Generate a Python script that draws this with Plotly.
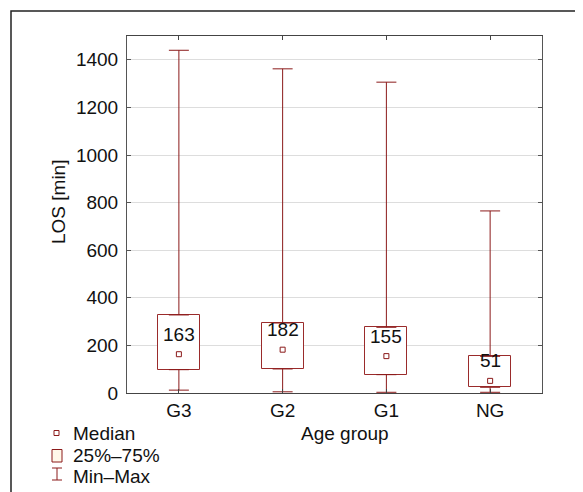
import plotly.graph_objects as go

categories = ["G3", "G2", "G1", "NG"]
median = [163, 182, 155, 51]
q1 = [98, 101, 77, 24]
q3 = [328, 294, 276, 154]
min_v = [12, 5, 3, 3]
max_v = [1440, 1362, 1306, 765]
y_ticks = [0, 200, 400, 600, 800, 1000, 1200, 1400]
legend_labels = ["Median", "25%–75%", "Min–Max"]

RED = "#8b1a1a"
BOXRED = "#9a2b2b"
FONT = "Liberation Sans, Arial, sans-serif"
FS = 19

fig = go.Figure()

# Boxes (25%-75%)
fig.add_trace(go.Bar(
    x=categories, y=[b - a for a, b in zip(q1, q3)], base=q1, width=0.405,
    marker=dict(color="white", line=dict(color=BOXRED, width=1)),
    showlegend=False, hoverinfo="skip"))

# Upper whiskers (q3 -> max)
fig.add_trace(go.Scatter(
    x=categories, y=q3, mode="markers", marker=dict(size=0.1, opacity=0),
    error_y=dict(type="data", array=[m - q for m, q in zip(max_v, q3)],
                 arrayminus=[0] * 4, color=RED, thickness=1, width=10),
    showlegend=False, hoverinfo="skip"))
# Lower whiskers (min -> q1)
fig.add_trace(go.Scatter(
    x=categories, y=q1, mode="markers", marker=dict(size=0.1, opacity=0),
    error_y=dict(type="data", array=[0] * 4,
                 arrayminus=[q - m for m, q in zip(min_v, q1)], color=RED, thickness=1, width=10),
    showlegend=False, hoverinfo="skip"))

# Median markers
fig.add_trace(go.Scatter(
    x=categories, y=median, mode="markers",
    marker=dict(symbol="square-open", size=5, color=RED, line=dict(width=1, color=RED)),
    showlegend=False, hoverinfo="skip"))

# Median labels
for c, m in zip(categories, median):
    fig.add_annotation(x=c, y=m, text=str(m), showarrow=False, yshift=20,
                       font=dict(size=FS, color="#111", family=FONT))

OFF = 8  # page offset of the figure
L, R, T, B = 119, 49, 28, 107
W, H = 583, 492
pw, ph = W - L - R, H - T - B


def sx(px):
    return (px - OFF - L) / pw


def sy(py):
    return (H - B - (py - OFF)) / ph


# Axis titles
fig.add_annotation(xref="paper", yref="paper", x=sx(58), y=sy(202), text="LOS [min]",
                   textangle=-90, showarrow=False, xanchor="center", yanchor="middle",
                   font=dict(size=FS, color="#111", family=FONT))
fig.add_annotation(xref="paper", yref="paper", x=sx(345), y=sy(433), text="Age group",
                   showarrow=False, xanchor="center", yanchor="middle",
                   font=dict(size=FS, color="#111", family=FONT))

# Legend (drawn manually)
fig.add_shape(type="rect", xref="paper", yref="paper", x0=sx(54), x1=sx(59), y0=sy(435.5), y1=sy(430.5),
              line=dict(color=RED, width=1), fillcolor="white")
fig.add_shape(type="rect", xref="paper", yref="paper", x0=sx(52), x1=sx(62), y0=sy(462), y1=sy(449.5),
              line=dict(color=RED, width=1), fillcolor="#fff8ea")
fig.add_shape(type="line", xref="paper", yref="paper", x0=sx(57), x1=sx(57), y0=sy(480), y1=sy(468),
              line=dict(color=RED, width=1))
fig.add_shape(type="line", xref="paper", yref="paper", x0=sx(52), x1=sx(62), y0=sy(468), y1=sy(468),
              line=dict(color=RED, width=1))
fig.add_shape(type="line", xref="paper", yref="paper", x0=sx(52), x1=sx(62), y0=sy(480), y1=sy(480),
              line=dict(color=RED, width=1))
for lab, yc in zip(legend_labels, [433, 455.5, 476.5]):
    fig.add_annotation(xref="paper", yref="paper", x=sx(71), y=sy(yc), text=lab,
                       showarrow=False, xanchor="left", yanchor="middle",
                       font=dict(size=FS, color="#111", family=FONT))

# Outer frame
fig.add_shape(type="rect", xref="paper", yref="paper",
              x0=sx(11), x1=sx(640), y0=sy(560), y1=sy(11),
              line=dict(color="#222", width=1.5), layer="below")

fig.update_layout(
    width=W, height=H,
    margin=dict(l=L, r=R, t=T, b=B, autoexpand=False),
    paper_bgcolor="white", plot_bgcolor="white",
    font=dict(family=FONT, size=FS, color="#111"),
    bargap=0,
    showlegend=False,
    xaxis=dict(type="category", showline=True, linecolor="#444", linewidth=1, mirror="ticks",
               ticks="inside", ticklen=4, tickcolor="#444", showgrid=False,
               tickfont=dict(size=FS), range=[-0.5, 3.5], ticklabelstandoff=0),
    yaxis=dict(range=[0, 1500], tickvals=y_ticks, showline=True, linecolor="#555", linewidth=1,
               mirror="ticks", ticks="inside", ticklen=4, tickcolor="#555",
               showgrid=True, gridcolor="#dddddd", gridwidth=1, zeroline=False,
               tickfont=dict(size=FS), ticklabelstandoff=4),
)

fig.write_html("out.html")
